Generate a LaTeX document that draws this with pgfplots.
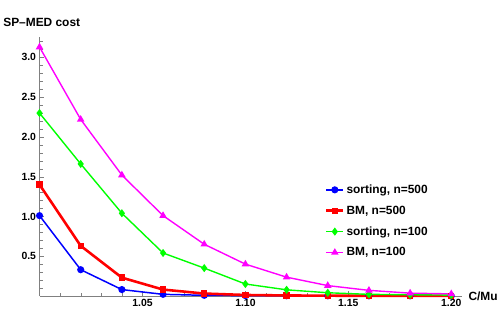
\documentclass[border=0pt]{standalone}
\usepackage{pgfplots}
\pgfplotsset{compat=1.18}
\usepackage{fontspec}
\setmainfont{Liberation Sans}
\definecolor{cBlue}{RGB}{0,0,255}
\definecolor{cRed}{RGB}{255,0,0}
\definecolor{cGreen}{RGB}{0,255,0}
\definecolor{cMag}{RGB}{255,0,255}
\begin{document}
\begin{tikzpicture}
\begin{axis}[
  scale only axis, width=425pt, height=261pt,
  at={(0,0)}, anchor=south west,
  xmin=1.0, xmax=1.205, ymin=0, ymax=3.26,
  axis lines=left,
  axis line style={-, black!50},
  clip=false,
  tick align=inside,
  major tick length=5pt, minor tick length=3pt,
  tick style={black!50},
  xtick={1.05,1.10,1.15,1.20},
  minor xtick={1.01,1.02,1.03,1.04,1.06,1.07,1.08,1.09,1.11,1.12,1.13,1.14,1.16,1.17,1.18,1.19},
  ytick={0.5,1.0,1.5,2.0,2.5,3.0},
  minor ytick={0.1,0.2,0.3,0.4,0.6,0.7,0.8,0.9,1.1,1.2,1.3,1.4,1.6,1.7,1.8,1.9,2.1,2.2,2.3,2.4,2.6,2.7,2.8,2.9,3.1,3.2},
  xticklabel style={/pgf/number format/.cd, fixed, fixed zerofill, precision=2, assume math mode=true},
  yticklabel style={/pgf/number format/.cd, fixed, fixed zerofill, precision=1, assume math mode=true},
  tick label style={font=\fontsize{10.5}{12}\selectfont\bfseries},
  ylabel={SP--MED cost},
  every axis y label/.style={at={(axis description cs:0,1)}, anchor=south west, xshift=-40pt, yshift=6.5pt, font=\fontsize{12}{14}\selectfont\bfseries},
  xlabel={C/Mu},
  every axis x label/.style={at={(axis description cs:1,0)}, anchor=west, xshift=3.5pt, font=\fontsize{12}{14}\selectfont\bfseries},
  legend style={at={(0.669,0.445)}, anchor=north west, draw=none, fill=none,
    font=\fontsize{12}{14}\selectfont\bfseries, row sep=7pt},
  legend cell align=left,
]
\addplot[cBlue, line width=1.5pt, mark=*, mark size=2.8pt] coordinates {
(1.00,1.01) (1.02,0.33) (1.04,0.08) (1.06,0.02) (1.08,0.008) (1.10,0.004) (1.12,0.002) (1.14,0.001) (1.16,0.001) (1.18,0.0005) (1.20,0.0003)};
\addlegendentry{sorting, n=500}
\addplot[cRed, line width=2.6pt, mark=square*, mark size=1.9pt] coordinates {
(1.00,1.40) (1.02,0.63) (1.04,0.23) (1.06,0.08) (1.08,0.03) (1.10,0.012) (1.12,0.006) (1.14,0.003) (1.16,0.002) (1.18,0.001) (1.20,0.001)};
\addlegendentry{BM, n=500}
\addplot[cGreen, line width=1.4pt, mark=diamond*, mark size=3pt] coordinates {
(1.00,2.30) (1.02,1.66) (1.04,1.04) (1.06,0.54) (1.08,0.35) (1.10,0.15) (1.12,0.077) (1.14,0.04) (1.16,0.02) (1.18,0.015) (1.20,0.01)};
\addlegendentry{sorting, n=100}
\addplot[cMag, line width=1.4pt, mark=triangle*, mark size=3pt] coordinates {
(1.00,3.13) (1.02,2.22) (1.04,1.52) (1.06,1.01) (1.08,0.65) (1.10,0.40) (1.12,0.236) (1.14,0.13) (1.16,0.07) (1.18,0.035) (1.20,0.026)};
\addlegendentry{BM, n=100}
\end{axis}
\useasboundingbox (-38pt,-17pt) rectangle (463pt,298pt);
\end{tikzpicture}
\end{document}
